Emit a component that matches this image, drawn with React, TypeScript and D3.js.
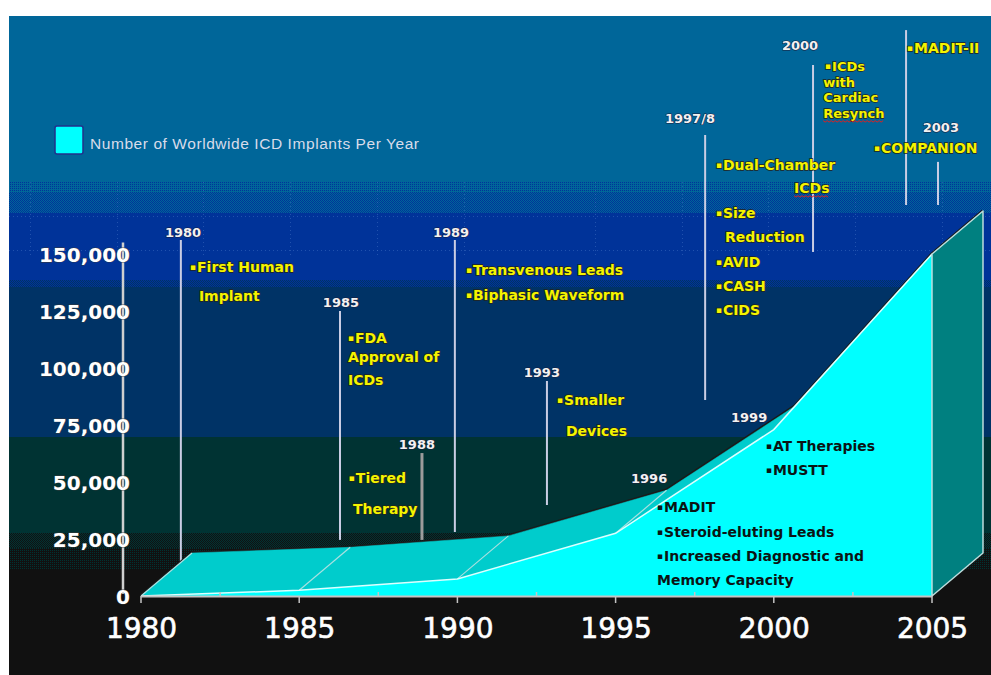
import { useEffect, useRef } from 'react';
import * as d3 from 'd3';

// Worldwide ICD implants per year (5-year steps)
const YEARS = [1980, 1985, 1990, 1995, 2000, 2005];
const IMPLANTS = [0, 2500, 7500, 27500, 73000, 150000];

const Y_TICKS = [0, 25000, 50000, 75000, 100000, 125000, 150000];
const X_TICKS = [1980, 1985, 1990, 1995, 2000, 2005];
const MINOR_X_TICKS = [1982.5, 1987.5, 1992.5, 1997.5, 2002.5];

const LEGEND_LABEL = 'Number of Worldwide ICD Implants Per Year';

// Milestone year labels, placed in chart units (year, implants)
const MILESTONE_LABELS = [
  { text: '1980', year: 1981.33, value: 157500 },
  { text: '1985', year: 1986.32, value: 126800 },
  { text: '1988', year: 1988.72, value: 64500 },
  { text: '1989', year: 1989.8, value: 157500 },
  { text: '1993', year: 1992.67, value: 96100 },
  { text: '1996', year: 1996.06, value: 49600 },
  { text: '1997/8', year: 1997.35, value: 207500 },
  { text: '1999', year: 1999.22, value: 76300 },
  { text: '2000', year: 2000.83, value: 239500 },
  { text: '2003', year: 2005.28, value: 203500 },
];

// Leader lines for the milestones (year, top value, bottom value)
const MILESTONE_LINES = [
  { year: 1981.26, top: 156100, bottom: 0 },
  { year: 1986.29, top: 125000, bottom: 24600 },
  { year: 1988.88, top: 62700, bottom: 24600, heavy: true },
  { year: 1989.92, top: 156100, bottom: 28100 },
  { year: 1992.83, top: 94300, bottom: 39900 },
  { year: 1997.83, top: 202200, bottom: 86000 },
  { year: 2001.24, top: 232900, bottom: 150900 },
  { year: 2004.18, top: 248200, bottom: 171500 },
  { year: 2005.19, top: 190400, bottom: 171500 },
];

// Milestone notes (left edge year, baseline value)
const NOTES = [
  { text: 'First Human', bullet: true, year: 1981.55, value: 142100 },
  { text: 'Implant', bullet: false, year: 1981.83, value: 129400 },
  { text: 'FDA', bullet: true, year: 1986.54, value: 111000 },
  { text: 'Approval of', bullet: false, year: 1986.54, value: 102600 },
  { text: 'ICDs', bullet: false, year: 1986.54, value: 92500 },
  { text: 'Tiered', bullet: true, year: 1986.57, value: 49600 },
  { text: 'Therapy', bullet: false, year: 1986.7, value: 36000 },
  { text: 'Transvenous Leads', bullet: true, year: 1990.27, value: 140800 },
  { text: 'Biphasic Waveform', bullet: true, year: 1990.27, value: 129800 },
  { text: 'Smaller', bullet: true, year: 1993.15, value: 83800 },
  { text: 'Devices', bullet: false, year: 1993.43, value: 70200 },
  { text: 'Dual-Chamber', bullet: true, year: 1998.17, value: 186800 },
  { text: 'ICDs', bullet: false, year: 2000.64, value: 176800, squiggle: true },
  { text: 'Size', bullet: true, year: 1998.17, value: 165800 },
  { text: 'Reduction', bullet: false, year: 1998.46, value: 155300 },
  { text: 'AVID', bullet: true, year: 1998.17, value: 144300 },
  { text: 'CASH', bullet: true, year: 1998.17, value: 133800 },
  { text: 'CIDS', bullet: true, year: 1998.17, value: 123200 },
  { text: 'MADIT-II', bullet: true, year: 2004.21, value: 238200 },
  { text: 'COMPANION', bullet: true, year: 2003.17, value: 194300 },
];

// The tightly set "CRT" note block
const CRT_NOTES = [
  { text: 'ICDs', bullet: true, year: 2001.62, value: 230100 },
  { text: 'with', bullet: false, year: 2001.56, value: 223300 },
  { text: 'Cardiac', bullet: false, year: 2001.56, value: 216500 },
  { text: 'Resynch', bullet: false, year: 2001.56, value: 209700, squiggle: true },
];

// Notes printed in black inside the cyan area
const DARK_NOTES = [
  { text: 'AT Therapies', bullet: true, year: 1999.75, value: 63600 },
  { text: 'MUSTT', bullet: true, year: 1999.75, value: 53100 },
  { text: 'MADIT', bullet: true, year: 1996.31, value: 36800 },
  { text: 'Steroid-eluting Leads', bullet: true, year: 1996.31, value: 25900 },
  { text: 'Increased Diagnostic and', bullet: true, year: 1996.31, value: 15400 },
  { text: 'Memory Capacity', bullet: false, year: 1996.31, value: 4800 },
];

const WIDTH = 991;
const HEIGHT = 675;
const FRAME = { left: 9, top: 16 };
const PLOT = { left: 141, right: 932, bottom: 596, top: 254 };
const DEPTH = { dx: 51, dy: -43 }; // 3D offset of the back plane

const FRONT_FILL = '#00ffff';
const TOP_FILL = '#00cccc';
const SIDE_FILL = '#008080';

const FONT = '"DejaVu Sans", Verdana, sans-serif';

// Background bands of the slide (y ranges in px)
const BANDS = [
  { y0: 16, y1: 182, fill: '#006699' },
  { y0: 182, y1: 193, fill: 'url(#dither-sparse-blue)' },
  { y0: 193, y1: 213, fill: 'url(#dither-blue)' },
  { y0: 213, y1: 280, fill: '#003399' },
  { y0: 280, y1: 287, fill: 'url(#dither-navy)' },
  { y0: 287, y1: 437, fill: '#003366' },
  { y0: 437, y1: 533, fill: '#003333' },
  { y0: 533, y1: 548, fill: 'url(#dither-dark)' },
  { y0: 548, y1: 570, fill: 'url(#dither-sparse-dark)' },
  { y0: 570, y1: 675, fill: '#111111' },
];
const GRID_X = [30, 117, 203, 290, 377, 464, 595, 682, 768, 855, 942];
const GRID_Y = [216, 250];

type Note = { text: string; bullet: boolean; year: number; value: number; squiggle?: boolean };

export default function App() {
  const svgRef = useRef<SVGSVGElement | null>(null);

  useEffect(() => {
    const svg = d3.select(svgRef.current);
    svg.selectAll('*').remove();
    svg.attr('width', WIDTH).attr('height', HEIGHT).style('font-family', FONT);

    const x = d3.scaleLinear().domain([1980, 2005]).range([PLOT.left, PLOT.right]);
    const y = d3.scaleLinear().domain([0, 150000]).range([PLOT.bottom, PLOT.top]);

    // Dither patterns --------------------------------------------------------
    const defs = svg.append('defs');
    const dither = (id: string, base: string, dot: string, sparse: boolean) => {
      const p = defs
        .append('pattern')
        .attr('id', id)
        .attr('width', 2)
        .attr('height', 2)
        .attr('patternUnits', 'userSpaceOnUse');
      p.append('rect').attr('width', 2).attr('height', 2).attr('fill', base);
      p.append('rect').attr('width', 1).attr('height', 1).attr('fill', dot);
      if (!sparse) p.append('rect').attr('x', 1).attr('y', 1).attr('width', 1).attr('height', 1).attr('fill', dot);
    };
    dither('dither-sparse-blue', '#006699', '#003399', true);
    dither('dither-blue', '#006699', '#003399', false);
    dither('dither-navy', '#003399', '#003366', false);
    dither('dither-dark', '#003333', '#111111', false);
    dither('dither-sparse-dark', '#111111', '#003333', true);

    // Background -------------------------------------------------------------
    svg.append('rect').attr('width', WIDTH).attr('height', HEIGHT).attr('fill', '#ffffff');
    svg
      .append('g')
      .attr('shape-rendering', 'crispEdges')
      .selectAll('rect')
      .data(BANDS)
      .join('rect')
      .attr('x', FRAME.left)
      .attr('y', (b) => b.y0)
      .attr('width', WIDTH - FRAME.left)
      .attr('height', (b) => b.y1 - b.y0)
      .attr('fill', (b) => b.fill);

    const grid = svg
      .append('g')
      .attr('stroke', '#4a78c8')
      .attr('stroke-opacity', 0.45)
      .attr('stroke-dasharray', '1,3')
      .attr('shape-rendering', 'crispEdges');
    grid
      .selectAll('line.gx')
      .data(GRID_X)
      .join('line')
      .attr('class', 'gx')
      .attr('x1', (d) => d)
      .attr('x2', (d) => d)
      .attr('y1', 182)
      .attr('y2', 256);
    grid
      .selectAll('line.gy')
      .data(GRID_Y)
      .join('line')
      .attr('class', 'gy')
      .attr('x1', FRAME.left)
      .attr('x2', WIDTH)
      .attr('y1', (d) => d)
      .attr('y2', (d) => d);

    // Milestone leader lines (behind the area) --------------------------------
    svg
      .append('g')
      .selectAll('line')
      .data(MILESTONE_LINES)
      .join('line')
      .attr('x1', (d) => x(d.year))
      .attr('x2', (d) => x(d.year))
      .attr('y1', (d) => y(d.top))
      .attr('y2', (d) => y(d.bottom))
      .attr('stroke', (d) => (d.heavy ? '#9c9c9c' : '#c9cde4'))
      .attr('stroke-width', (d) => (d.heavy ? 3 : 2));

    // 3D area ----------------------------------------------------------------
    const front: [number, number][] = YEARS.map((yr, i) => [x(yr), y(IMPLANTS[i])]);
    const back: [number, number][] = front.map(([px, py]) => [px + DEPTH.dx, py + DEPTH.dy]);
    const last = front.length - 1;
    const line = d3.line();
    const area3d = svg.append('g');

    // dark silhouette, half of it gets covered by the faces
    area3d
      .append('path')
      .attr('d', line([front[0], ...back]) + line(front) + line([front[last], back[last]]))
      .attr('fill', 'none')
      .attr('stroke', '#1a1a1a')
      .attr('stroke-width', 3.5)
      .attr('stroke-linejoin', 'round');

    // top surface, one quad per segment
    area3d
      .selectAll('path.top')
      .data(d3.range(last))
      .join('path')
      .attr('class', 'top')
      .attr('d', (i) => line([front[i], front[i + 1], back[i + 1], back[i]]) + 'Z')
      .attr('fill', TOP_FILL)
      .attr('stroke', TOP_FILL)
      .attr('stroke-width', 0.5);

    area3d
      .selectAll('line.depth')
      .data(d3.range(last))
      .join('line')
      .attr('class', 'depth')
      .attr('x1', (i) => front[i][0])
      .attr('y1', (i) => front[i][1])
      .attr('x2', (i) => back[i][0])
      .attr('y2', (i) => back[i][1])
      .attr('stroke', '#a8e2e2')
      .attr('stroke-width', 1.2);

    // front face
    const area = d3
      .area<number>()
      .x((_, i) => x(YEARS[i]))
      .y0(y(0))
      .y1((v) => y(v));
    area3d.append('path').attr('d', area(IMPLANTS)).attr('fill', FRONT_FILL);
    area3d
      .append('path')
      .attr('d', line(front))
      .attr('fill', 'none')
      .attr('stroke', '#dcffff')
      .attr('stroke-width', 1.5);

    // right side face at the last year
    area3d
      .append('path')
      .attr('d', line([[front[last][0], y(0)], front[last], back[last], [back[last][0], y(0) + DEPTH.dy]]) + 'Z')
      .attr('fill', SIDE_FILL)
      .attr('stroke', '#bcdcdc')
      .attr('stroke-width', 1.5)
      .attr('stroke-linejoin', 'round');

    // Axes ---------------------------------------------------------------------
    const base = svg.append('g').attr('stroke', '#c4c4c4');
    base
      .append('line')
      .attr('x1', x(1980))
      .attr('x2', x(2005))
      .attr('y1', y(0) + 0.5)
      .attr('y2', y(0) + 0.5)
      .attr('stroke-width', 2);
    base
      .selectAll('line.major')
      .data(X_TICKS)
      .join('line')
      .attr('class', 'major')
      .attr('x1', (d) => x(d))
      .attr('x2', (d) => x(d))
      .attr('y1', y(0))
      .attr('y2', y(0) + 7)
      .attr('stroke-width', 1.5);
    base
      .selectAll('line.minor')
      .data(MINOR_X_TICKS)
      .join('line')
      .attr('class', 'minor')
      .attr('x1', (d) => x(d))
      .attr('x2', (d) => x(d))
      .attr('y1', y(0))
      .attr('y2', y(0) - 4)
      .attr('stroke-width', 1.5);

    // y axis line sits left of the first year
    svg
      .append('line')
      .attr('x1', 123)
      .attr('x2', 123)
      .attr('y1', y(155000))
      .attr('y2', y(0) - 2)
      .attr('stroke', '#cfcfcf')
      .attr('stroke-width', 2.5);

    svg
      .append('g')
      .attr('transform', 'translate(130,0)')
      .call(d3.axisLeft(y).tickValues(Y_TICKS).tickSize(0).tickPadding(0).tickFormat(d3.format(',')))
      .call((g) => g.select('.domain').remove())
      .selectAll('text')
      .style('font-family', FONT)
      .style('font-size', '20px')
      .style('font-weight', 'bold')
      .attr('fill', '#ffffff')
      .attr('stroke', '#3a3a3a')
      .attr('stroke-width', 0.8)
      .attr('paint-order', 'stroke')
      .attr('dy', '0.36em');

    svg
      .append('g')
      .attr('transform', `translate(0,${y(0)})`)
      .call(d3.axisBottom(x).tickValues(X_TICKS).tickSize(0).tickPadding(22).tickFormat(d3.format('d')))
      .call((g) => g.select('.domain').remove())
      .selectAll('text')
      .style('font-family', FONT)
      .style('font-size', '28px')
      .attr('fill', '#ffffff')
      .attr('stroke', '#ffffff')
      .attr('stroke-width', 0.6);

    // Legend -------------------------------------------------------------------
    const legend = svg.append('g').attr('transform', 'translate(55,126)');
    legend
      .append('rect')
      .attr('width', 28)
      .attr('height', 28)
      .attr('rx', 2)
      .attr('fill', FRONT_FILL)
      .attr('stroke', '#22308c')
      .attr('stroke-width', 1.5);
    legend
      .append('text')
      .attr('x', 35)
      .attr('y', 23)
      .attr('textLength', 329)
      .attr('lengthAdjust', 'spacing')
      .style('font-family', '"Liberation Sans", Arial, sans-serif')
      .style('font-size', '15.5px')
      .attr('fill', '#d8dcea')
      .text(LEGEND_LABEL);

    // Milestone year labels ------------------------------------------------------
    svg
      .append('g')
      .selectAll('text')
      .data(MILESTONE_LABELS)
      .join('text')
      .attr('x', (d) => x(d.year))
      .attr('y', (d) => y(d.value))
      .attr('text-anchor', 'middle')
      .style('font-size', '13px')
      .style('font-weight', 'bold')
      .attr('fill', '#f2f2f2')
      .attr('stroke', '#1c1c3c')
      .attr('stroke-width', 1)
      .attr('paint-order', 'stroke')
      .text((d) => d.text);

    // Milestone notes --------------------------------------------------------------
    const drawNotes = (notes: Note[], fill: string, outline: string | null, size: number) => {
      const t = svg
        .append('g')
        .selectAll('text')
        .data(notes)
        .join('text')
        .attr('x', (d) => x(d.year))
        .attr('y', (d) => y(d.value))
        .style('font-size', `${size}px`)
        .style('font-weight', 'bold')
        .attr('fill', fill);
      if (outline) t.attr('stroke', outline).attr('stroke-width', 1.4).attr('paint-order', 'stroke');
      t.each(function (d) {
        const el = d3.select(this);
        const x0 = x(d.year);
        if (d.bullet) {
          el.append('tspan').attr('x', x0).attr('dy', -2).style('font-size', '9px').text('\u25aa');
          el.append('tspan').attr('x', x0 + 7).attr('dy', 2).text(d.text);
        } else {
          el.text(d.text);
        }
        // red spell-check squiggle seen under some words on the slide
        if (d.squiggle) {
          const box = (this as SVGTextElement).getBBox();
          const yy = y(d.value) + 3;
          const pts: [number, number][] = d3
            .range(box.x, box.x + box.width, 2)
            .map((px, k) => [px, yy + (k % 2 ? 1.2 : -0.2)]);
          svg
            .append('path')
            .attr('d', line(pts))
            .attr('fill', 'none')
            .attr('stroke', '#e02020')
            .attr('stroke-width', 1);
        }
      });
    };
    drawNotes(NOTES, '#f4f400', '#23231a', 14);
    drawNotes(CRT_NOTES, '#f4f400', '#23231a', 13);
    drawNotes(DARK_NOTES, '#0b1414', null, 14);
  }, []);

  return (
    <div style={{ position: 'absolute', left: 0, top: 0 }}>
      <svg ref={svgRef} style={{ display: 'block' }} />
    </div>
  );
}
